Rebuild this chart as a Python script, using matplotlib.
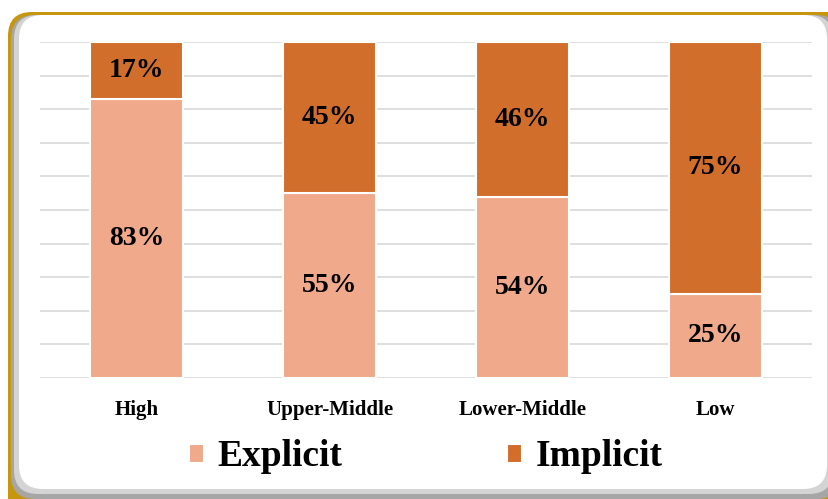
import matplotlib.pyplot as plt
from matplotlib.patches import FancyBboxPatch

# income groups and shares (%)
groups = ["High", "Upper-Middle", "Lower-Middle", "Low"]
explicit = [83, 55, 54, 25]
implicit = [17, 45, 46, 75]

plt.rcParams['font.family'] = ['Liberation Serif', 'DejaVu Serif']

fig = plt.figure(figsize=(8.29, 4.99), dpi=100)
tr = fig.dpi_scale_trans


def box(x0, top, x1, bottom, **kw):
    # pixel box (y measured from the top) -> inches
    p = FancyBboxPatch((x0 / 100, (499 - bottom) / 100), (x1 - x0) / 100,
                       (bottom - top) / 100,
                       boxstyle="round,pad=0,rounding_size=0.24",
                       transform=tr, **kw)
    fig.patches.append(p)


# frame: gold edge top/left, grey shadow, white panel
box(8, 12, 860, 530, facecolor="#C6960F", edgecolor="none", zorder=0)
box(11, 15, 840, 499, facecolor="#a6a6a6", edgecolor="none", zorder=0.1)
box(14, 15, 833, 494, facecolor="#d4d4d4", edgecolor="none", zorder=0.2)
box(19, 15, 827, 489, facecolor="white", edgecolor="none", zorder=0.3)

ax = fig.add_axes([40 / 829, 121 / 499, 772 / 829, 336 / 499])
ax.set_zorder(2)
ax.patch.set_alpha(0)

x = range(len(groups))
ax.bar(x, explicit, width=0.48, color="#F0A98A", edgecolor="white",
       linewidth=1.5, label="Explicit", zorder=3)
ax.bar(x, implicit, width=0.48, bottom=explicit, color="#D26E2C",
       edgecolor="white", linewidth=1.5, label="Implicit", zorder=3)

for i in x:
    ax.text(i, explicit[i] / 2, f"{explicit[i]}%", ha="center", va="center",
            fontsize=20, fontweight="bold", zorder=4)
    ax.text(i, explicit[i] + implicit[i] / 2, f"{implicit[i]}%", ha="center",
            va="center", fontsize=20, fontweight="bold", zorder=4)

ax.set_xlim(-0.5, 3.5)
ax.set_ylim(0, 100)
ax.set_yticks(range(0, 101, 10))
ax.set_yticklabels([])
ax.tick_params(axis="y", length=0)
ax.tick_params(axis="x", length=0, pad=16)
ax.set_xticks(list(x))
ax.set_xticklabels(groups, fontsize=15, fontweight="bold")
ax.grid(axis="y", color="#d9d9d9", linewidth=1.2, zorder=0)
for s in ax.spines.values():
    s.set_visible(False)

leg = fig.legend(loc="center", bbox_to_anchor=(426 / 829, 42 / 499), ncol=2,
                 frameon=False, prop={"size": 27, "weight": "bold"},
                 handlelength=0.4, handleheight=0.4, handletextpad=0.35,
                 columnspacing=4.4)
leg.set_zorder(3)

fig.savefig("out.png", dpi=100)
